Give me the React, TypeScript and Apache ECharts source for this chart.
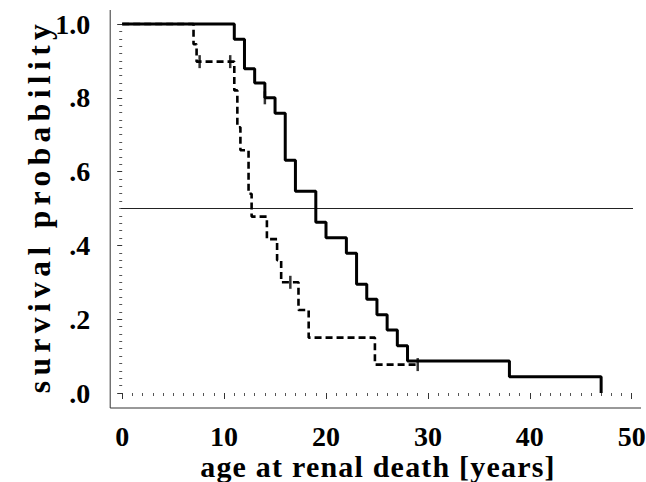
import React, { useEffect, useRef } from "react";
import * as echarts from "echarts";

// Kaplan-Meier curves: [age (years), survival probability after the event]
const solidCurve: [number, number][] = [
  [0, 1.0], [11, 0.959], [12, 0.879], [13, 0.84], [14, 0.8], [15, 0.758],
  [16, 0.631], [17, 0.547], [19, 0.463], [20, 0.421], [22, 0.379], [23, 0.295],
  [24, 0.254], [25, 0.212], [26, 0.171], [27, 0.128], [28, 0.087], [38, 0.044],
  [47, 0.0],
];
const dashedCurve: [number, number][] = [
  [0, 1.0], [7, 0.945], [7.3, 0.898], [11, 0.82], [11.3, 0.72], [11.6, 0.658],
  [12.4, 0.54], [12.7, 0.478], [14.2, 0.417], [15.2, 0.36], [15.6, 0.3],
  [17.3, 0.225], [18.3, 0.15], [24.8, 0.077], [29, 0.077],
];
const solidCensored: [number, number][] = [[14, 0.8]];
const dashedCensored: [number, number][] = [[7.6, 0.898], [10.6, 0.898], [16.5, 0.3], [29, 0.077]];
const medianLine: [number, number][] = [[-1.2, 0.5], [50.9, 0.5]];

const xTicks = [0, 10, 20, 30, 40, 50];
const yTicks = [0, 0.2, 0.4, 0.6, 0.8, 1.0];
const xTitle = "age at renal death [years]";
const yTitle = "survival probability";

const FONT = "Liberation Serif";

export default function App() {
  const ref = useRef<HTMLDivElement>(null);
  useEffect(() => {
    if (!ref.current) return;
    const chart = echarts.init(ref.current, null, { renderer: "svg" });
    const labelStyle = { fontFamily: FONT, fontWeight: "bold" as const, fontSize: 28, color: "#000", lineHeight: 28 };
    chart.setOption({
      animation: false,
      backgroundColor: "#fff",
      grid: { left: 122.2, right: 14.3, top: 24, bottom: 89, outerBoundsMode: "none" },
      xAxis: {
        type: "value",
        min: xTicks[0],
        max: xTicks[xTicks.length - 1],
        interval: 10,
        offset: 15,
        axisLine: { show: false },
        axisTick: { show: true, length: 6, lineStyle: { color: "#333", width: 1 } },
        minorTick: { show: true, splitNumber: 10, length: 3, lineStyle: { color: "#555", width: 1 } },
        splitLine: { show: false },
        minorSplitLine: { show: false },
        axisLabel: { ...labelStyle, margin: 14 },
      },
      yAxis: {
        type: "value",
        min: yTicks[0],
        max: yTicks[yTicks.length - 1],
        interval: 0.2,
        offset: 12,
        axisLine: { show: false },
        axisTick: { show: true, length: 5, lineStyle: { color: "#333", width: 1 } },
        minorTick: { show: true, splitNumber: 10, length: 3, lineStyle: { color: "#555", width: 1 } },
        splitLine: { show: false },
        minorSplitLine: { show: false },
        axisLabel: {
          ...labelStyle,
          margin: 20,
          formatter: (v: number) => (Math.abs(v - 1) < 1e-9 ? "1.0" : "." + Math.round(v * 10)),
        },
      },
      graphic: [
        { type: "line", shape: { x1: 110.2, y1: 10, x2: 110.2, y2: 408 }, style: { stroke: "#333", lineWidth: 1 } },
        { type: "line", shape: { x1: 110.2, y1: 408, x2: 641, y2: 408 }, style: { stroke: "#333", lineWidth: 1 } },
        {
          type: "text",
          x: 39,
          y: 206,
          rotation: Math.PI / 2,
          style: {
            text: yTitle,
            fontSize: 31.5,
            fontWeight: "bold",
            fontFamily: FONT,
            fill: "#000",
            lineHeight: 28,
            align: "center",
            verticalAlign: "middle",
            textAlign: "center",
            textVerticalAlign: "middle",
          },
        },
        {
          type: "text",
          x: 378,
          y: 466.5,
          style: {
            text: xTitle,
            fontSize: 30,
            fontWeight: "bold",
            fontFamily: FONT,
            fill: "#000",
            lineHeight: 30,
            align: "center",
            verticalAlign: "middle",
            textAlign: "center",
            textVerticalAlign: "middle",
          },
        },
      ],
      series: [
        {
          type: "line",
          data: medianLine,
          showSymbol: false,
          clip: false,
          silent: true,
          lineStyle: { color: "#222", width: 1 },
          z: 1,
        },
        {
          type: "line",
          data: dashedCurve,
          step: "end",
          showSymbol: false,
          clip: false,
          lineStyle: { color: "#000", width: 2.6, type: [7, 4] },
          z: 2,
        },
        {
          type: "line",
          data: solidCurve,
          step: "end",
          showSymbol: false,
          clip: false,
          lineStyle: { color: "#000", width: 3 },
          z: 3,
        },
        {
          type: "scatter",
          data: [...solidCensored, ...dashedCensored],
          symbol: "rect",
          symbolSize: [2.5, 13],
          itemStyle: { color: "#000" },
          clip: false,
          z: 4,
        },
      ],
    });
    return () => chart.dispose();
  }, []);
  return (
    <>
      <style>{'text[style*="31.5px"]{letter-spacing:5.4px} text[style*="30px"]{letter-spacing:1.2px}'}</style>
      <div
        ref={ref}
        style={{ position: "fixed", left: 0, top: 0, width: 646, height: 482, background: "#fff" }}
      />
    </>
  );
}
